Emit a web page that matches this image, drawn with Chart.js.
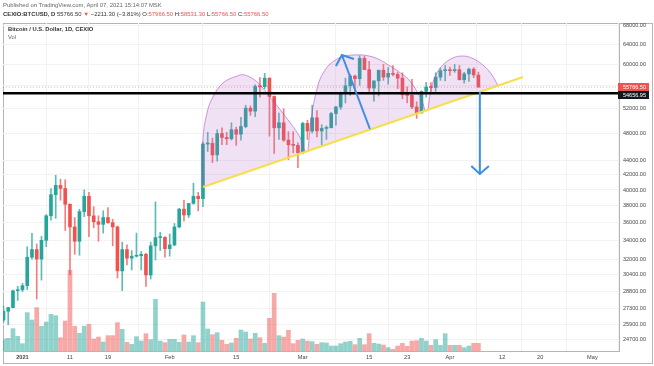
<!DOCTYPE html>
<html>
<head>
<meta charset="utf-8">
<script src="https://cdn.jsdelivr.net/npm/chart.js@4.4.1/dist/chart.umd.min.js"></script>
<style>
  html, body { margin: 0; padding: 0; background: #fff; }
  #wrap { position: relative; width: 654px; height: 366px; overflow: hidden; font-family: "Liberation Sans", Arial, sans-serif; }
  #frame { position: absolute; left: 3px; top: 23px; width: 650px; height: 341px; border: 1px solid #b5b5b5; box-sizing: border-box; }
  #grafico { position: absolute; left: 0; top: 0; }
  .txt { position: absolute; white-space: nowrap; }
  .t1 { left: 3px; top: 2px; font-size: 5.9px; color: #666; }
  .t2 { left: 3px; top: 11px; font-size: 5.9px; color: #333; }
  .t3 { left: 8px; top: 26px; font-size: 5.8px; color: #333; font-weight: bold; }
  .t4 { left: 8px; top: 34px; font-size: 5.8px; color: #666; }
  .red { color: #ef5350; }
</style>
</head>
<body>
<div id="wrap">
  <div id="frame"></div>
  <canvas id="grafico" width="654" height="366"></canvas>
  <div class="txt t1">Published on TradingView.com, April 07, 2021 15:14:07 MSK</div>
  <div class="txt t2"><b>CEXIO:BTCUSD, D</b> 55766.50 <span class="red">▼</span> −2211.30 (−3.81%) O:<span class="red">57966.50</span> H:<span class="red">58531.30</span> L:<span class="red">55766.50</span> C:<span class="red">55766.50</span></div>
  <div class="txt t3">Bitcoin / U.S. Dollar, 1D, CEXIO</div>
  <div class="txt t4">Vol</div>
</div>
<script>
// dias (candles diários)
const datas = [
  '2020-12-28','2020-12-29','2020-12-30','2020-12-31',
  '2021-01-01','2021-01-02','2021-01-03','2021-01-04','2021-01-05','2021-01-06','2021-01-07','2021-01-08','2021-01-09','2021-01-10',
  '2021-01-11','2021-01-12','2021-01-13','2021-01-14','2021-01-15','2021-01-16','2021-01-17','2021-01-18','2021-01-19','2021-01-20',
  '2021-01-21','2021-01-22','2021-01-23','2021-01-24','2021-01-25','2021-01-26','2021-01-27','2021-01-28','2021-01-29','2021-01-30','2021-01-31',
  '2021-02-01','2021-02-02','2021-02-03','2021-02-04','2021-02-05','2021-02-06','2021-02-07','2021-02-08','2021-02-09','2021-02-10',
  '2021-02-11','2021-02-12','2021-02-13','2021-02-14','2021-02-15','2021-02-16','2021-02-17','2021-02-18','2021-02-19','2021-02-20',
  '2021-02-21','2021-02-22','2021-02-23','2021-02-24','2021-02-25','2021-02-26','2021-02-27','2021-02-28',
  '2021-03-01','2021-03-02','2021-03-03','2021-03-04','2021-03-05','2021-03-06','2021-03-07','2021-03-08','2021-03-09','2021-03-10',
  '2021-03-11','2021-03-12','2021-03-13','2021-03-14','2021-03-15','2021-03-16','2021-03-17','2021-03-18','2021-03-19','2021-03-20',
  '2021-03-21','2021-03-22','2021-03-23','2021-03-24','2021-03-25','2021-03-26','2021-03-27','2021-03-28','2021-03-29','2021-03-30','2021-03-31',
  '2021-04-01','2021-04-02','2021-04-03','2021-04-04','2021-04-05','2021-04-06','2021-04-07'
];
const abertura = [
  26280,27040,27360,28890,
  28980,29370,32190,33000,32000,34000,36800,39400,40600,40200,
  38200,35500,33900,37300,39200,36800,36100,35800,36600,36000,
  35500,30800,33000,32100,32300,32350,32500,30400,33400,34300,34320,
  33100,33500,35500,37600,36900,38300,39200,38900,46400,46500,
  44800,48000,47400,47200,48600,47900,49100,52100,51600,55900,
  55840,57400,54100,48900,49700,47000,46300,46200,
  45100,49600,48400,50500,48400,48800,48900,51200,52300,54800,
  56000,57800,57300,61200,59000,55600,56900,58900,57600,58300,
  58100,57400,54400,54300,52300,51300,55000,55800,55700,57600,58800,
  58900,58800,59000,57100,58200,59100,57966.5
];
const maximas = [
  27500,27390,28950,29300,
  29600,33300,34780,33600,34450,36940,40180,41950,41400,41350,
  38260,36600,37600,40000,39700,37900,36800,37400,37800,36400,
  35600,33800,33500,32900,34800,32800,32600,33800,38500,34900,34400,
  34700,35900,37700,38700,38300,40900,39700,46700,48200,47300,
  48600,48900,48200,49700,49000,50600,52600,52500,56200,57500,
  58300,57500,54200,51300,52000,48300,48300,46600,
  49800,50100,52600,51700,49400,49200,51400,52400,54900,57400,
  58100,58000,61700,61600,60600,56900,58900,60000,59400,59800,
  58500,58400,55800,57200,53200,55100,56600,56600,58400,59300,59800,
  59500,60000,59800,58500,59300,59400,58531.3
];
const minimas = [
  26100,25880,27340,28000,
  28800,29000,32000,28130,29900,33300,36300,36500,38700,35100,
  30400,32500,32400,36700,34400,35400,33900,34800,35900,33400,
  30100,28900,31400,30900,32200,30900,29300,30000,31900,32900,32200,
  32300,33400,35400,36200,36600,38200,37400,37900,45300,43700,
  43900,46300,46300,47000,46200,47000,48900,50900,50700,54000,
  55500,47600,45000,47100,46800,44100,45100,43000,
  45000,47100,48100,47500,46300,47100,48900,49300,51900,53000,
  54300,55000,56100,59000,54600,53300,54200,57000,56300,57800,
  55500,53700,53000,52000,50400,51300,54000,54700,55000,57000,56900,
  57900,58500,57100,56500,56800,57500,55766.5
];
const fechamento = [
  27040,27360,28890,28980,
  29370,32190,33000,32000,34000,36800,39400,40600,40200,38200,
  35500,33900,37300,39200,36800,36100,35800,36600,36000,35500,
  30800,33000,32100,32300,32350,32500,30400,33400,34300,34320,33100,
  33500,35500,37600,36900,38300,39200,38900,46400,46500,44800,
  48000,47400,47200,48600,47900,49100,52100,51600,55900,55840,
  57400,54100,48900,49700,47000,46300,46200,45100,
  49600,48400,50500,48400,48800,48900,51200,52300,54800,56000,
  57800,57300,61200,59000,55600,56900,58900,57600,58300,58100,
  57400,54400,54300,52300,51300,55000,55800,55700,57600,58800,58900,
  58800,59000,57100,58200,59100,58000,55766.5
];
const volumes = [
  720,760,1340,880,
  440,2300,1860,2600,1480,1740,2200,2120,800,1800,
  4840,1480,1060,1480,1600,720,840,540,920,920,
  1700,1300,520,400,860,600,1040,680,3100,600,500,
  700,700,520,960,540,920,500,2940,1320,980,
  1100,640,400,480,760,1260,1140,720,1060,800,
  460,1960,3460,920,840,1240,440,640,
  720,600,560,400,500,480,300,300,440,540,
  580,380,760,380,1040,460,420,360,200,100,
  300,460,280,600,620,760,600,340,680,340,1040,
  340,340,340,200,300,460,460
];

// eixo x: dias desde 1 jan 2021
const diasTicks = [0, 10, 18, 31, 45, 59, 73, 81, 90, 101, 109, 120];
const rotulosTicks = ['2021', '11', '19', 'Feb', '15', 'Mar', '15', '23', 'Apr', '12', '20', 'May'];
const precosTicks = [24700, 25900, 27300, 28800, 30400, 32000, 34000, 36000, 38000, 40000, 42000, 44000, 48000, 52000, 56000, 60000, 64000, 68000];

// desenhos (dia, preço)
const cupula1 = [[38.0, 40390], [38.0, 47010], [38.84, 51290], [40.1, 54010], [42.2, 56510], [45.2, 57800], [46.8, 57990], [49.4, 56700], [52.1, 54010], [54.8, 51290], [58.4, 47470], [59.5, 45220]];
const cupula2 = [[60.1, 45370], [60.7, 49660], [61.6, 54010], [63.3, 58370], [66.2, 61060], [69.6, 61860], [73.8, 61460], [77.4, 59700], [79.9, 58180], [81.6, 56880], [83.1, 54900], [84.2, 53150], [84.7, 51790]];
const cupula3 = [[85.4, 51960], [86.0, 55250], [87.05, 57990], [88.5, 59890], [90.6, 61260], [92.7, 61660], [94.6, 61260], [96.7, 60090], [98.4, 58550], [99.5, 57060], [100.1, 55960]];
const linhaTendencia = [[38.0, 40390], [105.4, 57620]];
const seta1 = [[73.16, 48710], [67.26, 61860]];
const seta1Ponta = [[66.0, 59700], [67.26, 61860], [69.8, 61060]];
const seta2 = [[96.3, 54900], [96.3, 42120]];
const seta2Ponta = [[94.5, 43220], [96.3, 42120], [98.2, 43220]];
const nivel = 54656.95;
const ultimo = 55766.5;

const X_MIN = -4.1, X_MAX = 125.6;
const DIA0 = Date.UTC(2021, 0, 1);
const xs = datas.map(d => (Date.parse(d + 'T00:00:00Z') - DIA0) / 86400000);
const alta = abertura.map((o, i) => fechamento[i] >= o);

const VERDE = '#26a69a', VERMELHO = '#ef5350';
const pts = arr => arr.map(p => ({x: p[0], y: p[1]}));

function linha(dados, cor, largura, ordem, extra) {
  return Object.assign({
    type: 'line', data: pts(dados), yAxisID: 'y', borderColor: cor, borderWidth: largura,
    pointRadius: 0, fill: false, tension: 0, order: ordem
  }, extra || {});
}
function cupula(dados) {
  return linha(dados, 'rgba(171,71,188,0.55)', 1, 6, {
    fill: 'shape', backgroundColor: 'rgba(186,104,200,0.2)', tension: 0.4
  });
}

const etiquetas = {
  id: 'etiquetas',
  afterDraw(chart) {
    const {ctx} = chart;
    const y = chart.scales.y;
    const p1 = y.getPixelForValue(ultimo);
    const p2 = Math.max(y.getPixelForValue(nivel), p1 + 8);
    ctx.save();
    ctx.font = '5.5px "Liberation Sans", Arial, sans-serif';
    ctx.textBaseline = 'middle';
    [[p1, VERMELHO, ultimo], [p2, '#131722', nivel]].forEach(([py, cor, v]) => {
      ctx.fillStyle = cor;
      ctx.fillRect(y.left - 1, Math.round(py) - 4, 31, 8);
      ctx.fillStyle = '#fff';
      ctx.fillText(v.toFixed(2), y.left + 4, py);
    });
    ctx.restore();
  }
};

const ctx = document.getElementById('grafico').getContext('2d');
new Chart(ctx, {
  type: 'line',
  data: {
    datasets: [
      {
        type: 'bar', yAxisID: 'vol', order: 10, grouped: false, barThickness: 4,
        data: xs.map((x, i) => ({x, y: volumes[i]})),
        backgroundColor: alta.map(a => a ? 'rgba(38,166,154,0.5)' : 'rgba(239,83,80,0.5)')
      },
      {
        type: 'bar', yAxisID: 'y', order: 9, grouped: false, barThickness: 1,
        data: xs.map((x, i) => ({x, y: [minimas[i], maximas[i]]})),
        backgroundColor: alta.map(a => a ? 'rgba(38,166,154,0.75)' : 'rgba(239,83,80,0.75)')
      },
      {
        type: 'bar', yAxisID: 'y', order: 8, grouped: false, barThickness: 3, minBarLength: 1,
        data: xs.map((x, i) => ({x, y: [abertura[i], fechamento[i]]})),
        backgroundColor: alta.map(a => a ? VERDE : VERMELHO)
      },
      cupula(cupula1),
      cupula(cupula2),
      cupula(cupula3),
      linha([[X_MIN, ultimo], [X_MAX, ultimo]], 'rgba(239,83,80,0.45)', 1, 5, {borderDash: [1, 2]}),
      linha(linhaTendencia, '#f7df4a', 2, 4),
      linha([[X_MIN, nivel], [X_MAX, nivel]], '#000', 2.5, 3),
      linha(seta1, '#3a8ee6', 2, 2),
      linha(seta1Ponta, '#3a8ee6', 2, 2),
      linha(seta2, '#3a8ee6', 2, 2),
      linha(seta2Ponta, '#3a8ee6', 2, 2)
    ]
  },
  options: {
    responsive: false,
    animation: false,
    devicePixelRatio: 1,
    layout: { padding: { left: 3, top: 23, right: 2, bottom: 3 } },
    plugins: { legend: { display: false }, tooltip: { enabled: false } },
    scales: {
      x: {
        type: 'linear', min: X_MIN, max: X_MAX, offset: false,
        afterBuildTicks: s => { s.ticks = diasTicks.map(v => ({value: v})); },
        afterFit: s => { s.height = 12; s.paddingLeft = 0; s.paddingRight = 0; },
        ticks: {
          autoSkip: false, maxRotation: 0, padding: 3, color: '#444',
          callback: (v, i) => rotulosTicks[i],
          font: c => ({size: 5.6, family: '"Liberation Sans", Arial, sans-serif', weight: c.index === 0 ? 'bold' : 'normal'})
        },
        grid: { color: '#f2f2f2', drawTicks: false },
        border: { color: '#b5b5b5' }
      },
      y: {
        type: 'logarithmic', position: 'right', min: 23780, max: 68600,
        afterBuildTicks: s => { s.ticks = precosTicks.map(v => ({value: v})); },
        afterFit: s => { s.width = 33; s.paddingTop = 0; s.paddingBottom = 0; },
        ticks: {
          autoSkip: false, padding: 4, color: '#444',
          font: {size: 5.5, family: '"Liberation Sans", Arial, sans-serif'},
          callback: v => v === 56000 ? '' : Number(v).toFixed(2)
        },
        grid: { color: '#f2f2f2', drawTicks: false },
        border: { color: '#b5b5b5' }
      },
      vol: { type: 'linear', display: false, min: 0, max: 19680 }
    }
  },
  plugins: [etiquetas]
});
</script>
</body>
</html>
